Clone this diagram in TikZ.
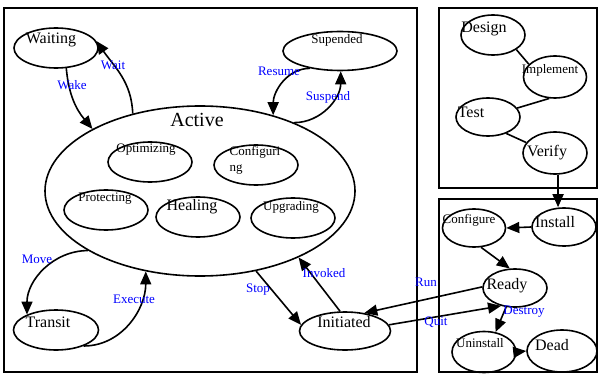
\documentclass[tikz,border=0pt]{standalone}
\usepackage{fontspec}
\setmainfont{Liberation Serif}
\usetikzlibrary{shapes.geometric, arrows.meta}

\begin{document}
\begin{tikzpicture}[x=1pt, y=-1pt, line width=1.6pt,
  st/.style={ellipse, draw, inner sep=0pt, minimum width=64, minimum height=40},
  big/.style={font=\fontsize{16}{18}\selectfont},
  small/.style={font=\fontsize{13}{16}\selectfont},
  lab/.style={text=blue, inner sep=0pt, font=\fontsize{13}{14}\selectfont},
  arr/.style={-{Triangle[length=13pt,width=11pt]}}]
\useasboundingbox (0,0) rectangle (601,374);
% frames
\draw (4,8) rectangle (417,372);
\draw (439,8) rectangle (597,188);
\draw (439,199) rectangle (597,372);
% left part: states
\node[st, minimum width=84, label={[big,xshift=-5,yshift=8]center:Waiting}] (waiting) at (56,48) {};
\node[st, minimum width=310, minimum height=170, label={[font=\fontsize{20}{22}\selectfont,xshift=-3,yshift=71]center:Active}] (active) at (200,191) {};
\node[st, minimum width=84, label={[small,xshift=-4,yshift=12]center:Optimizing}] (optimizing) at (150,162) {};
\node[st, minimum width=84, label={[small,align=left,xshift=-1,yshift=5]center:Configuri\\ng}] (configuring) at (256,165) {};
\node[st, minimum width=84, label={[small,xshift=-1,yshift=11]center:Protecting}] (protecting) at (106,210) {};
\node[st, minimum width=84, label={[big,xshift=-6,yshift=10]center:Healing}] (healing) at (198,217) {};
\node[st, minimum width=84, label={[small,xshift=-2,yshift=11]center:Upgrading}] (upgrading) at (293,218) {};
\node[st, minimum width=114, minimum height=39, label={[small,xshift=-3,yshift=11]center:Supended}] (supended) at (340,51) {};
\node[st, minimum width=85, label={[big,xshift=-8,yshift=8]center:Transit}] (transit) at (56,330) {};
\node[st, minimum width=91, minimum height=38, label={[big,xshift=-1,yshift=9]center:Initiated}] (initiated) at (345,331) {};
% right part: states
\node[st, label={[big,xshift=-9,yshift=6]center:Design}] (design) at (493,35) {};
\node[st, minimum width=63, minimum height=42, label={[small,xshift=-5,yshift=7]center:Implement}] (implement) at (555,77) {};
\node[st, minimum height=38, label={[big,xshift=-17,yshift=5]center:Test}] (test) at (488,117) {};
\node[st, minimum height=42, label={[big,xshift=-8,yshift=0]center:Verify}] (verify) at (555,153) {};
\node[st, minimum height=38, label={[big,xshift=-9,yshift=5]center:Install}] (install) at (564,227) {};
\node[st, minimum width=63, minimum height=38, label={[small,xshift=-5,yshift=8]center:Configure}] (configure) at (474,228) {};
\node[st, minimum height=38, label={[big,xshift=-8,yshift=2]center:Ready}] (ready) at (515,288) {};
\node[st, minimum height=41, label={[small,xshift=-4,yshift=9]center:Uninstall}] (uninstall) at (484,352) {};
\node[st, minimum width=70, minimum height=42, label={[big,xshift=-10,yshift=6]center:Dead}] (dead) at (562,351) {};
% transitions
\draw[arr] (waiting.-63) to[out=-85, in=130] (active.150);
\draw[arr] (active.131) to[out=92, in=-55] (waiting.10);
\draw[arr] (supended.-150) to[out=180, in=90] (active.46);
\draw[arr] (active.36) to[out=0, in=-90] (supended.-88);
\draw[arr] (active.-152) to[out=180, in=90] (transit.152);
\draw[arr] (transit.-30) to[out=0, in=-90] (active.-124);
\draw[arr] (active.-55) -- (initiated.172);
\draw[arr] (initiated.104) -- (active.-34);
\draw[arr] (ready.178) -- (initiated.43);
\draw[arr] (initiated.8) -- (ready.-128);
\draw[arr] (ready.-115) -- (uninstall.60);
\draw (design.-32) -- (implement.154);
\draw (implement.-105) -- (test.17);
\draw (test.-42) -- (verify.160);
\draw[arr] (verify.-82) -- (verify.-82 |- install.north);
\draw[arr] (install.west) -- (configure.east);
\draw[arr] (configure.-70) -- (ready.105);
\draw[arr] (uninstall.east) -- (dead.west);
% event labels
\node[lab] (wake) at (72,85) {Wake};
\node[lab] (wait) at (113,65) {Wait};
\node[lab] (resume) at (279,71) {Resume};
\node[lab] (suspend) at (328,97) {Suspend};
\node[lab] (move) at (37,259) {Move};
\node[lab] (execute) at (134,299) {Execute};
\node[lab] (stop) at (258,290) {Stop};
\node[lab] (invoked) at (324,273) {Invoked};
\node[lab] (run) at (426,282) {Run};
\node[lab] (quit) at (436,322) {Quit};
\node[lab] (destroy) at (524,312) {Destroy};
\end{tikzpicture}
\end{document}
